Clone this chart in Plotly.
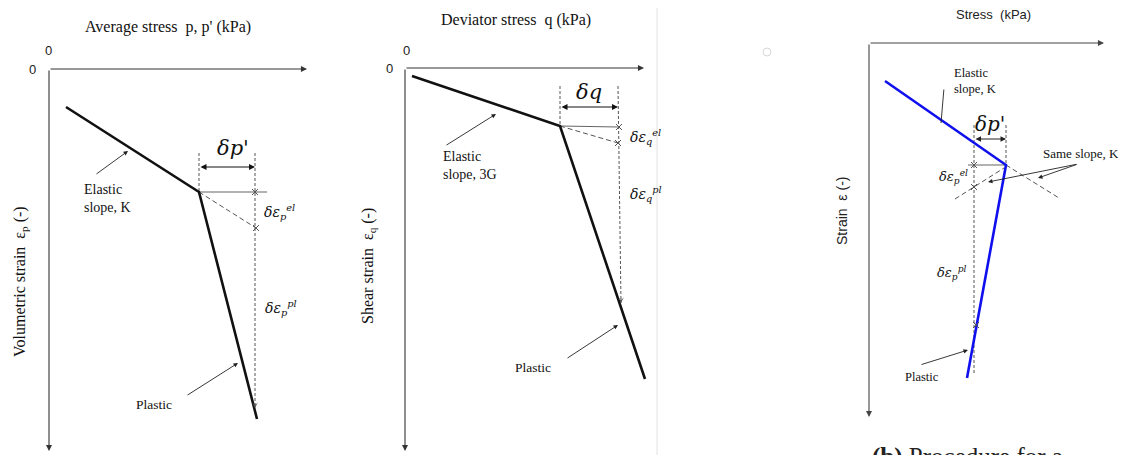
import plotly.graph_objects as go

W, H = 1123, 455

# ---------------- schematic paths (stress to the right, strain downward) ----------------
# (1) average stress p' vs volumetric strain
vol_p = [17, 150, 208]
vol_eps = [38, 123, 350]
vol_dp = [150, 206]          # stress interval δp'
vol_eps_el = [123, 159]      # strain after an elastic step of δp'
vol_eps_pl_end = 339
vol_guide_top = 84

# (2) deviator stress q vs shear strain
dev_q = [7, 155, 240]
dev_eps = [8, 58, 311]
dev_dq = [155, 213]
dev_eps_el = [58, 75]
dev_eps_pl_end = 235
dev_guide_top = 18

# (3) procedure panel: stress vs strain
proc_s = [16, 137, 98]
proc_eps = [38, 122, 335]
proc_dp = [105, 137]
proc_same_s = [86, 135]      # line through the elastic point with slope K
proc_same_eps = [156, 125]
proc_ext_s = [137, 190]      # continuation of the elastic line
proc_ext_eps = [122, 155]
proc_eps_el = [122, 144]
proc_eps_pl_end = 330
proc_guide_top = 82

# ---------------- panel frames (pixel boxes and origins) ----------------
panels = {
    "1": dict(box=(0, 340), origin=(49, 69), ax_len=(258, 382)),
    "2": dict(box=(340, 700), origin=(405, 68), ax_len=(239, 383)),
    "3": dict(box=(700, 1123), origin=(869, 43), ax_len=(235, 374)),
}

SERIF = "Liberation Serif"
SANS = "Liberation Sans"
MATH = "DejaVu Serif"
INK = "#111111"
GUIDE = "#555555"

fig = go.Figure()
annotations = []


def ax_names(k):
    return ("x" if k == "1" else "x" + k), ("y" if k == "1" else "y" + k)


def line(k, xs, ys, color=INK, width=1, dash=None):
    xr, yr = ax_names(k)
    fig.add_trace(go.Scatter(x=xs, y=ys, mode="lines", xaxis=xr, yaxis=yr,
                             line=dict(color=color, width=width, dash=dash),
                             hoverinfo="skip", showlegend=False))


def cross(k, xs, ys):
    xr, yr = ax_names(k)
    fig.add_trace(go.Scatter(x=xs, y=ys, mode="markers", xaxis=xr, yaxis=yr,
                             marker=dict(symbol="x-thin-open", size=6, color=GUIDE,
                                         line=dict(color=GUIDE, width=1)),
                             hoverinfo="skip", showlegend=False))


def arrow(k, x0, y0, x1, y1, both=False, width=1, color="#222222", head=2, size=1):
    xr, yr = ax_names(k)
    annotations.append(dict(x=x1, y=y1, ax=x0, ay=y0, xref=xr, yref=yr,
                            axref=xr, ayref=yr, text="", showarrow=True,
                            arrowhead=head, arrowsize=size, arrowwidth=width,
                            arrowcolor=color,
                            arrowside="end+start" if both else "end",
                            startarrowhead=head, startarrowsize=size))


def text(k, x, y, s, size=13, family=SERIF, color=INK, angle=0, xanchor="center",
         align="center"):
    xr, yr = ax_names(k)
    annotations.append(dict(x=x, y=y, xref=xr, yref=yr, text=s, showarrow=False,
                            textangle=angle, xanchor=xanchor, yanchor="middle",
                            align=align,
                            font=dict(family=family, size=size, color=color)))


def axes_arrows(k, color="#333333"):
    lx, ly = panels[k]["ax_len"]
    arrow(k, 0, 0, lx, 0, width=1.1, color=color, head=2, size=1.1)
    arrow(k, 0, 0, 0, ly, width=1.1, color=color, head=2, size=1.1)


def eps_label(sub, sup):
    return f"<i>δε</i><sub><i>{sub}</i></sub><sup><i>{sup}</i></sup>"


# ---------------- panel 1 ----------------
k = "1"
axes_arrows(k)
line(k, [vol_dp[0], vol_dp[0]], [vol_guide_top, vol_eps[1]], color=GUIDE, dash="3px,2px")
line(k, [vol_dp[1], vol_dp[1]], [vol_guide_top, vol_eps_pl_end], color=GUIDE, dash="3px,2px")
line(k, [vol_p[1], vol_dp[1] + 12], [vol_eps[1], vol_eps[1]], color="#666666", width=1.2)
line(k, [vol_p[1], vol_dp[1] + 1], vol_eps_el, color=GUIDE, dash="5px,3px")
cross(k, [vol_dp[1], vol_dp[1] + 1], [vol_eps[1], vol_eps_el[1]])
arrow(k, vol_dp[1], vol_eps_pl_end - 6, vol_dp[1], vol_eps_pl_end, width=0.8, color=GUIDE, head=3, size=1.2)
line(k, vol_p, vol_eps, width=2.6)
arrow(k, vol_dp[0], 98, vol_dp[1], 98, both=True, width=1.2, color=INK, size=1)
text(k, 184, 79, "<i>δp'</i>", size=21, family=MATH)
text(k, 213, 143, eps_label("p", "el"), size=14, family=MATH, xanchor="left")
text(k, 214, 239, eps_label("p", "pl"), size=14, family=MATH, xanchor="left")
text(k, 33, 129, "Elastic<br>slope, K", size=14, xanchor="left", align="left")
arrow(k, 46, 106, 79, 82, width=0.9)
text(k, 105, 335, "Plastic", size=13.5)
arrow(k, 137, 327, 189, 294, width=0.9)
text(k, 119, -42, "Average stress  p, p' (kPa)", size=16)
text(k, -1, -19, "0", size=13, family=SANS, color="#222222")
text(k, -17, 0, "0", size=13, family=SANS, color="#222222")
text(k, -29, 213, "Volumetric strain  ε<sub>p</sub> (-)", size=16, angle=-90)

# ---------------- panel 2 ----------------
k = "2"
axes_arrows(k)
line(k, [dev_dq[0], dev_dq[0]], [dev_guide_top, dev_eps[1]], color=GUIDE, dash="3px,2px")
line(k, [dev_dq[1], dev_dq[1] + 3], [dev_guide_top, dev_eps_pl_end], color=GUIDE, dash="3px,2px")
line(k, [dev_q[1], dev_dq[1] + 1], [dev_eps[1], dev_eps[1] + 1], color="#666666", width=1.2)
line(k, [dev_q[1], dev_dq[1]], dev_eps_el, color=GUIDE, dash="5px,3px")
cross(k, [dev_dq[1] + 1, dev_dq[1]], [dev_eps[1] + 1, dev_eps_el[1]])
arrow(k, dev_dq[1] + 3, dev_eps_pl_end - 6, dev_dq[1] + 3, dev_eps_pl_end, width=0.8, color=GUIDE, head=3, size=1.2)
line(k, dev_q, dev_eps, width=2.6)
arrow(k, dev_dq[0], 39, dev_dq[1], 39, both=True, width=1.2, color=INK, size=1)
text(k, 184, 24, "<i>δq</i>", size=21, family=MATH)
text(k, 223, 69, eps_label("q", "el"), size=14, family=MATH, xanchor="left")
text(k, 223, 126, eps_label("q", "pl"), size=14, family=MATH, xanchor="left")
text(k, 36, 97, "Elastic<br>slope, 3G", size=14, xanchor="left", align="left")
arrow(k, 40, 78, 91, 46, width=0.9)
text(k, 128, 299, "Plastic", size=13.5)
arrow(k, 161, 291, 213, 257, width=0.9)
text(k, 111, -48, "Deviator stress  q (kPa)", size=16)
text(k, 1, -18, "0", size=13, family=SANS, color="#222222")
text(k, -16, 0, "0", size=13, family=SANS, color="#222222")
text(k, -37, 198, "Shear strain  ε<sub>q</sub> (-)", size=16, angle=-90)

# ---------------- panel 3 ----------------
k = "3"
axes_arrows(k, color="#444444")
line(k, [proc_dp[0], proc_dp[0]], [proc_guide_top, proc_eps_pl_end], color=GUIDE, dash="3px,2px")
line(k, [proc_dp[1], proc_dp[1]], [proc_guide_top, proc_eps[1]], color=GUIDE, dash="3px,2px")
line(k, [proc_dp[0] - 6, proc_s[1]], [proc_eps[1], proc_eps[1]], color="#666666", width=1.2)
line(k, proc_same_s, proc_same_eps, color=GUIDE, dash="5px,3px")
line(k, proc_ext_s, proc_ext_eps, color=GUIDE, dash="5px,3px")
cross(k, [proc_dp[0], proc_dp[0]], proc_eps_el)
line(k, proc_s, proc_eps, color="#1010ee", width=2.6)
cross(k, [proc_dp[0] + 2], [282])
arrow(k, proc_dp[0], 96, proc_dp[1], 96, both=True, width=1.1, color="#222222", size=1)
text(k, 121, 81, "<i>δp'</i>", size=20, family=MATH)
text(k, 84, 134, eps_label("p", "el"), size=13, family=MATH)
text(k, 82, 230, eps_label("p", "pl"), size=13, family=MATH)
text(k, 83, 38, "Elastic<br>slope, K", size=12.5, xanchor="left", align="left")
arrow(k, 75, 45, 72, 80, width=0.9, head=0)
text(k, 212, 110, "Same slope, K", size=13)
arrow(k, 209, 121, 119, 139, width=0.9)
arrow(k, 209, 121, 169, 135, width=0.9)
text(k, 53, 334, "Plastic", size=12.5)
arrow(k, 51, 322, 99, 307, width=0.9)
text(k, 124, -29, "Stress  (kPa)", size=13, family=SANS, color="#222222")
text(k, -27, 168, "Strain  ε (-)", size=14, family=SANS, color="#222222", angle=-90)
xr, yr = ax_names(k)
fig.add_trace(go.Scatter(x=[-102], y=[9], mode="markers", xaxis=xr, yaxis=yr,
                         marker=dict(symbol="circle-open", size=8, color="#d8d8d8",
                                     line=dict(color="#d8d8d8", width=1)),
                         hoverinfo="skip", showlegend=False))

# caption (partly below the frame)
annotations.append(dict(x=870 / W, y=0.031, xref="paper", yref="paper",
                        xanchor="left", yanchor="top", showarrow=False,
                        text="<b>(b)</b> Procedure for a",
                        font=dict(family=SERIF, size=25, color="#222222")))

# ---------------- axes layout ----------------
layout_axes = {}
for k, p in panels.items():
    bx0, bx1 = p["box"]
    ox, oy = p["origin"]
    xname = "xaxis" if k == "1" else "xaxis" + k
    yname = "yaxis" if k == "1" else "yaxis" + k
    xr, yr = ax_names(k)
    layout_axes[xname] = dict(domain=[bx0 / W, bx1 / W], range=[bx0 - ox, bx1 - ox],
                              visible=False, anchor=yr, fixedrange=True)
    layout_axes[yname] = dict(domain=[0, 1], range=[H - oy, -oy],
                              visible=False, anchor=xr, fixedrange=True)

fig.update_layout(
    width=W, height=H,
    margin=dict(l=0, r=0, t=0, b=0),
    paper_bgcolor="white", plot_bgcolor="rgba(0,0,0,0)",
    showlegend=False,
    annotations=annotations,
    shapes=[dict(type="line", xref="paper", yref="paper",
                 x0=657 / W, x1=657 / W, y0=0, y1=(H - 8) / H,
                 line=dict(color="#e2e2e2", width=1))],
    **layout_axes,
)

fig.write_html("out.html")
